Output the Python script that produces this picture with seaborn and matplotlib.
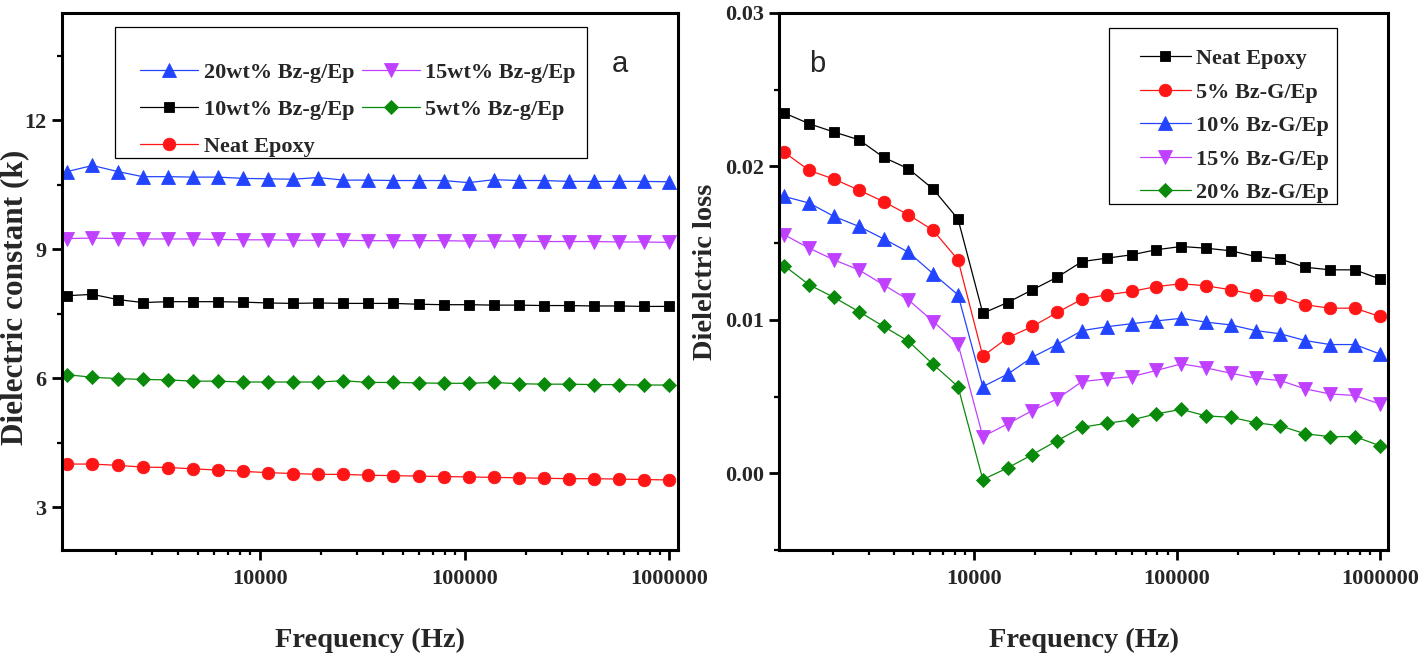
import matplotlib
matplotlib.use("Agg")
import matplotlib.pyplot as plt
from matplotlib.patches import Rectangle
from matplotlib.ticker import FixedLocator, LogLocator, NullFormatter, FormatStrFormatter
import seaborn as sns

# ---------------- data ----------------
freq = [1153, 1529, 2027, 2687, 3562, 4721, 6257, 8294, 10995, 14575, 19320, 25610,
        33950, 45000, 59650, 79070, 104810, 138930, 184160, 244120, 323600, 428930,
        568600, 753700, 1000000]

# panel a : dielectric constant
a_20 = [10.81, 10.95, 10.81, 10.69, 10.69, 10.68, 10.68, 10.65, 10.64, 10.63, 10.67, 10.61,
        10.61, 10.60, 10.60, 10.60, 10.55, 10.62, 10.60, 10.60, 10.58, 10.58, 10.58, 10.58, 10.57]
a_15 = [9.25, 9.26, 9.25, 9.24, 9.24, 9.24, 9.23, 9.22, 9.22, 9.21, 9.21, 9.21,
        9.20, 9.20, 9.20, 9.20, 9.19, 9.19, 9.19, 9.18, 9.18, 9.18, 9.17, 9.17, 9.16]
a_10 = [7.92, 7.95, 7.83, 7.76, 7.78, 7.78, 7.78, 7.77, 7.75, 7.74, 7.75, 7.74,
        7.74, 7.74, 7.72, 7.71, 7.71, 7.70, 7.70, 7.69, 7.69, 7.68, 7.68, 7.67, 7.67]
a_5 = [6.08, 6.02, 5.99, 5.97, 5.96, 5.93, 5.93, 5.91, 5.91, 5.91, 5.91, 5.94,
       5.90, 5.90, 5.89, 5.88, 5.88, 5.90, 5.87, 5.86, 5.86, 5.85, 5.85, 5.84, 5.84]
a_neat = [4.00, 4.00, 3.97, 3.93, 3.92, 3.89, 3.86, 3.83, 3.80, 3.78, 3.76, 3.76,
          3.74, 3.73, 3.72, 3.71, 3.70, 3.69, 3.68, 3.67, 3.66, 3.66, 3.65, 3.64, 3.63]

# panel b : dielectric loss
b_neat = [0.02348, 0.02278, 0.02224, 0.02174, 0.02059, 0.01985, 0.01852, 0.01657, 0.01043,
          0.01113, 0.01196, 0.01278, 0.01380, 0.01402, 0.01424, 0.01457, 0.01478, 0.01467,
          0.01450, 0.01413, 0.01396, 0.01343, 0.01326, 0.01326, 0.01267]
b_5 = [0.02091, 0.01974, 0.01917, 0.01846, 0.01770, 0.01685, 0.01583, 0.01391, 0.00763,
       0.00883, 0.00957, 0.01048, 0.01135, 0.01163, 0.01185, 0.01217, 0.01235, 0.01222,
       0.01196, 0.01163, 0.01152, 0.01098, 0.01076, 0.01076, 0.01022]
b_10 = [0.01804, 0.01761, 0.01674, 0.01609, 0.01528, 0.01441, 0.01300, 0.01163, 0.00565,
        0.00646, 0.00757, 0.00839, 0.00930, 0.00955, 0.00975, 0.00993, 0.01010, 0.00985,
        0.00967, 0.00930, 0.00909, 0.00865, 0.00839, 0.00839, 0.00778]
b_15 = [0.01554, 0.01467, 0.01391, 0.01326, 0.01228, 0.01130, 0.00989, 0.00843, 0.00239,
        0.00322, 0.00409, 0.00485, 0.00598, 0.00615, 0.00630, 0.00670, 0.00713, 0.00687,
        0.00652, 0.00620, 0.00604, 0.00550, 0.00517, 0.00507, 0.00452]
b_20 = [0.01352, 0.01228, 0.01146, 0.01054, 0.00957, 0.00861, 0.00709, 0.00565, -0.00041,
        0.00035, 0.00122, 0.00213, 0.00300, 0.00326, 0.00348, 0.00387, 0.00417, 0.00374,
        0.00365, 0.00330, 0.00309, 0.00257, 0.00239, 0.00239, 0.00180]

xticks = [10000, 100000, 1000000]
xticklabels = ["10000", "100000", "1000000"]

BLUE = "#2244ff"
MAG = "#c040ff"
GREEN = "#0a8a0a"
RED = "#ff1515"
BLACK = "#000000"

sns.set_theme(style="ticks")
plt.rcParams["font.family"] = ["Liberation Serif", "DejaVu Serif"]
plt.rcParams["font.weight"] = "bold"
plt.rcParams["mathtext.default"] = "regular"

fig = plt.figure(figsize=(14.18, 6.56), dpi=100)
axA = fig.add_axes([0.0437, 0.1616, 0.4344, 0.8186])
axB = fig.add_axes([0.5494, 0.1616, 0.4295, 0.8186])


def draw(ax, y, color, marker, ms, label):
    sns.lineplot(x=freq, y=y, ax=ax, color=color, marker=marker, markersize=ms,
                 markeredgecolor=color, markeredgewidth=0.6, linewidth=0.9,
                 label=label, sort=False, estimator=None)


draw(axA, a_20, BLUE, "^", 9.5, "20wt% Bz-g/Ep")
draw(axA, a_15, MAG, "v", 9.5, "15wt% Bz-g/Ep")
draw(axA, a_10, BLACK, "s", 7, "10wt% Bz-g/Ep")
draw(axA, a_5, GREEN, "D", 7.2, "5wt% Bz-g/Ep")
draw(axA, a_neat, RED, "o", 9, "Neat Epoxy")

draw(axB, b_neat, BLACK, "s", 7.5, "Neat Epoxy")
draw(axB, b_5, RED, "o", 9, "5% Bz-G/Ep")
draw(axB, b_10, BLUE, "^", 9.5, "10% Bz-G/Ep")
draw(axB, b_15, MAG, "v", 9.5, "15% Bz-G/Ep")
draw(axB, b_20, GREEN, "D", 7.5, "20% Bz-G/Ep")

for ax in (axA, axB):
    ax.set_xscale("log")
    ax.set_xlim(1085, 1.10e6)
    ax.xaxis.set_major_locator(FixedLocator(xticks))
    ax.set_xticklabels(xticklabels)
    ax.xaxis.set_minor_locator(LogLocator(base=10, subs=range(2, 10), numticks=20))
    ax.xaxis.set_minor_formatter(NullFormatter())
    for s in ax.spines.values():
        s.set_linewidth(2.2)
        s.set_color("black")
    ax.tick_params(axis="both", which="major", direction="out", length=7, width=2,
                   labelsize=16, pad=4, color="black")
    ax.tick_params(axis="both", which="minor", direction="out", length=3.5, width=1.6,
                   color="black")
    ax.tick_params(axis="x", which="major", pad=7)
    ax.set_xlabel("Frequency (Hz)", fontsize=20.5, fontweight="bold")
    ax.xaxis.set_label_coords(0.5, -0.168)
    ax.xaxis.label.set_va("center")
    ax.grid(False)
    ax.set_facecolor("white")

axA.set_ylim(2, 14.5)
axA.yaxis.set_major_locator(FixedLocator([3, 6, 9, 12]))
axA.yaxis.set_minor_locator(FixedLocator([4.5, 7.5, 10.5, 13.5]))
axA.set_ylabel("Dielectric constant (k)", fontsize=22.5, fontweight="bold")
axA.yaxis.set_label_coords(-0.076, 0.471)
axA.yaxis.label.set_va("center")

axB.set_ylim(-0.005, 0.03)
axB.yaxis.set_major_locator(FixedLocator([0.0, 0.01, 0.02, 0.03]))
axB.yaxis.set_minor_locator(FixedLocator([-0.005, 0.005, 0.015, 0.025]))
axB.yaxis.set_major_formatter(FormatStrFormatter("%.2f"))
axB.set_ylabel("Dielelctric loss", fontsize=20.5, fontweight="bold")
axB.yaxis.set_label_coords(-0.1215, 0.518)
axB.yaxis.label.set_va("center")

for ax in (axA, axB):
    for t in ax.get_xticklabels() + ax.get_yticklabels():
        t.set_fontweight("bold")

leg_font = {"family": "Liberation Serif", "weight": "bold", "size": 16}

# legend boxes drawn as frames (Origin style, extra space at the top)
axA.add_patch(Rectangle((0.086, 0.730), 0.852 - 0.086, 0.974 - 0.730, transform=axA.transAxes,
                        facecolor="white", edgecolor="black", linewidth=0.9, zorder=4))
axB.add_patch(Rectangle((0.5419, 0.6443), 0.9163 - 0.5419, 0.972 - 0.6443,
                        transform=axB.transAxes, facecolor="white", edgecolor="black",
                        linewidth=0.9, zorder=4))

hA, lA = axA.get_legend_handles_labels()
order = [0, 2, 4, 1, 3]
legA = axA.legend([hA[i] for i in order], [lA[i] for i in order], ncol=2,
                  loc="upper left", bbox_to_anchor=(0.1266, 0.9088), frameon=False,
                  prop=leg_font, handlelength=2.6, handletextpad=0.26, columnspacing=0.35,
                  borderpad=0, labelspacing=0.757, borderaxespad=0)
legA.set_zorder(5)

hB, lB = axB.get_legend_handles_labels()
legB = axB.legend(hB, lB, loc="upper left", bbox_to_anchor=(0.592, 0.934), frameon=False,
                  prop=leg_font, handlelength=2.3, handletextpad=0.26, borderpad=0,
                  labelspacing=0.585, borderaxespad=0)
legB.set_zorder(5)

axA.text(0.905, 0.905, "a", transform=axA.transAxes, fontsize=21,
         family="Liberation Sans", fontweight="normal", ha="center", va="center")
axB.text(0.063, 0.905, "b", transform=axB.transAxes, fontsize=21,
         family="Liberation Sans", fontweight="normal", ha="center", va="center")

fig.savefig("out.png", dpi=100, facecolor="white")
